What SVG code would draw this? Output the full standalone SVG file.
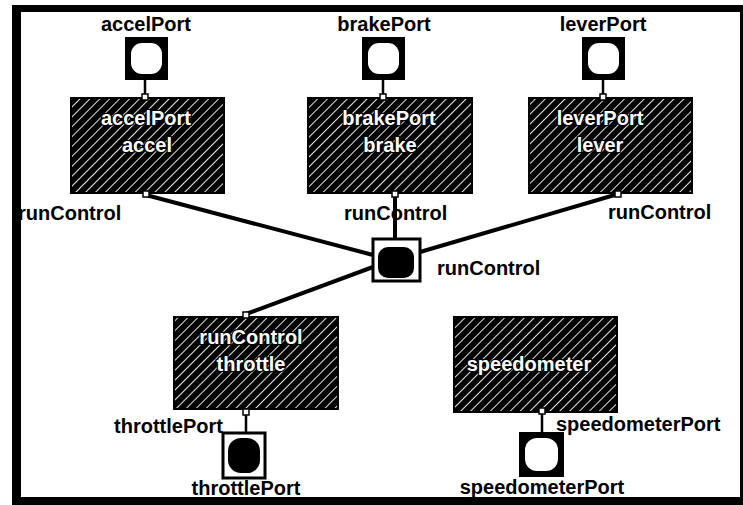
<svg xmlns="http://www.w3.org/2000/svg" width="743" height="505" viewBox="0 0 743 505">
<defs>
<pattern id="hatch" patternUnits="userSpaceOnUse" width="7" height="7" patternTransform="rotate(45)">
<rect width="7" height="7" fill="#000"/>
<line x1="0" y1="0" x2="0" y2="7" stroke="#fff" stroke-width="1.8"/>
</pattern>
</defs>
<style>
text{font-family:"Liberation Sans",Arial,sans-serif;font-weight:bold;font-size:20px;fill:#000}
.in{fill:#fff;stroke:#000;stroke-width:2.5px;paint-order:stroke;text-anchor:middle}
.mid{text-anchor:middle}
.blk{fill:url(#hatch);stroke:#000;stroke-width:2}
.pin{fill:#fff;stroke:#000;stroke-width:1.5}
.wire{stroke:#000;stroke-width:4;fill:none;stroke-linecap:round}
.thin{stroke:#000;stroke-width:2.5;fill:none}
.inport{fill:#000}
.outbox{fill:#fff;stroke:#000;stroke-width:3}
</style>
<rect x="0" y="0" width="743" height="505" fill="#fff"/>
<g id="frame">
<rect x="12" y="5" width="9" height="500" fill="#000"/>
<rect x="12" y="5" width="731" height="7" fill="#000"/>
<rect x="740" y="5" width="3" height="500" fill="#000"/>
<rect x="12" y="497" width="731" height="8" fill="#000"/>
</g>
<g id="connectors">
<line class="thin" x1="145" y1="80" x2="145" y2="96"/>
<line class="thin" x1="383" y1="80" x2="383" y2="96"/>
<line class="thin" x1="603" y1="80" x2="603" y2="96"/>
<line class="wire" x1="146" y1="195" x2="373" y2="255"/>
<line class="wire" x1="395" y1="196" x2="395" y2="238"/>
<line class="wire" x1="618" y1="194" x2="420" y2="252"/>
<line class="wire" x1="246" y1="314" x2="373" y2="267"/>
<line class="thin" x1="246" y1="414" x2="246" y2="432"/>
<line class="thin" x1="542" y1="413" x2="542" y2="432"/>
</g>
<g id="accelPort">
<rect class="inport" x="125" y="37" width="43" height="43"/>
<rect x="131" y="43" width="31" height="31" rx="11" fill="#fff"/>
<text class="mid" x="146" y="31">accelPort</text>
</g>
<g id="brakePort">
<rect class="inport" x="362" y="37" width="43" height="43"/>
<rect x="368" y="43" width="31" height="31" rx="11" fill="#fff"/>
<text class="mid" x="384" y="31">brakePort</text>
</g>
<g id="leverPort">
<rect class="inport" x="582" y="37" width="43" height="43"/>
<rect x="588" y="43" width="31" height="31" rx="11" fill="#fff"/>
<text class="mid" x="603" y="31">leverPort</text>
</g>
<g id="accel">
<rect class="blk" x="71" y="98" width="153" height="95"/>
<text class="in" x="146" y="125">accelPort</text>
<text class="in" x="147" y="152">accel</text>
<rect class="pin" x="142" y="94" width="6" height="6"/>
<rect class="pin" x="143" y="191" width="6" height="6"/>
<text x="18" y="220">runControl</text>
</g>
<g id="brake">
<rect class="blk" x="308" y="98" width="164" height="95"/>
<text class="in" x="389" y="125">brakePort</text>
<text class="in" x="390" y="152">brake</text>
<rect class="pin" x="380" y="94" width="6" height="6"/>
<rect class="pin" x="392" y="191" width="6" height="6"/>
<text x="344" y="220">runControl</text>
</g>
<g id="lever">
<rect class="blk" x="529" y="98" width="163" height="95"/>
<text class="in" x="600" y="125">leverPort</text>
<text class="in" x="600" y="152">lever</text>
<rect class="pin" x="600" y="94" width="6" height="6"/>
<rect class="pin" x="615" y="191" width="6" height="6"/>
<text x="608" y="219">runControl</text>
</g>
<g id="runControl">
<rect class="outbox" x="373" y="239" width="47" height="42"/>
<rect x="378" y="247" width="36" height="31" rx="10" fill="#000"/>
<text x="437" y="275">runControl</text>
</g>
<g id="throttle">
<rect class="blk" x="174" y="317" width="164" height="92"/>
<text class="in" x="251" y="344">runControl</text>
<text class="in" x="251" y="371">throttle</text>
<rect class="pin" x="243" y="312" width="6" height="6"/>
<rect class="pin" x="243" y="409" width="6" height="6"/>
<text x="114" y="433">throttlePort</text>
</g>
<g id="throttlePort">
<rect class="outbox" x="223" y="433" width="42" height="45"/>
<rect x="228" y="438" width="32" height="35" rx="13" fill="#000"/>
<text class="mid" x="246" y="495">throttlePort</text>
</g>
<g id="speedometer">
<rect class="blk" x="454" y="317" width="163" height="95"/>
<text class="in" x="529" y="371">speedometer</text>
<rect class="pin" x="539" y="408" width="6" height="6"/>
<text x="556" y="431">speedometerPort</text>
</g>
<g id="speedometerPort">
<rect class="inport" x="519" y="432" width="45" height="45"/>
<rect x="525" y="438" width="33" height="33" rx="12" fill="#fff"/>
<text class="mid" x="542" y="494">speedometerPort</text>
</g>
</svg>
